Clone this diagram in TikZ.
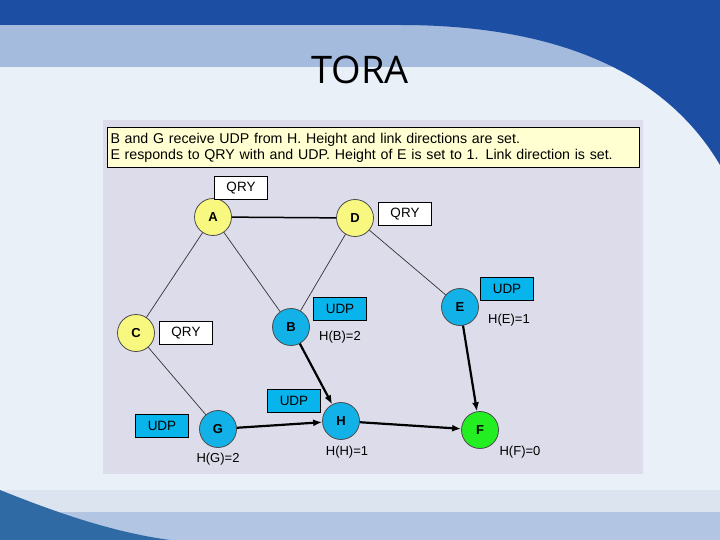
\documentclass[tikz,border=0pt]{standalone}
\usepackage{fontspec}
\setmainfont{Liberation Sans}
\newfontfamily\titlefont{Open Sans}
\usetikzlibrary{arrows.meta}
\definecolor{bgpale}{HTML}{EAF0F8}
\definecolor{bandlight}{HTML}{A4BBDD}
\definecolor{banddark}{HTML}{1C4FA3}
\definecolor{panel}{HTML}{DCDCEA}
\definecolor{notefill}{HTML}{FFFFD2}
\definecolor{nyellow}{HTML}{F8F880}
\definecolor{ncyan}{HTML}{12B2E8}
\definecolor{ngreen}{HTML}{22EE22}
\definecolor{udpfill}{HTML}{08B4EC}
\definecolor{botband}{HTML}{B2C6E3}
\definecolor{botlight}{HTML}{DCE4F0}
\definecolor{swoosh}{HTML}{2F6AA5}
\tikzset{
  x=1pt, y=-1pt,
  vnode/.style={circle, draw=black!70, line width=0.8pt, minimum size=37pt, inner sep=0pt, font=\bfseries\fontsize{13}{14}\selectfont},
  yel/.style={vnode, fill=nyellow},
  cya/.style={vnode, fill=ncyan},
  grn/.style={vnode, fill=ngreen},
  qrybox/.style={draw=black, line width=1pt, fill=white, minimum width=53pt, minimum height=23pt, inner sep=0pt, font=\fontsize{13.5}{14}\selectfont},
  udpbox/.style={qrybox, fill=udpfill},
  hlabel/.style={font=\fontsize{13}{14}\selectfont, inner sep=0pt},
  thinedge/.style={draw=black!80, line width=0.7pt},
  arr/.style={draw=black, line width=2.2pt, -{Latex[length=9pt,width=7pt]}}
}
\begin{document}
\begin{tikzpicture}
\useasboundingbox (0,0) rectangle (720,540);
% background
\fill[bgpale] (0,0) rectangle (720,540);
\fill[bandlight] (0,25) rectangle (720,67);
\fill[banddark] (0,0) -- (0,25) -- (400,25) .. controls (570,25) and (670,80) .. (720,165) -- (720,0) -- cycle;
\fill[botlight] (0,490) rectangle (720,512);
\fill[botband] (0,512) rectangle (720,540);
\fill[swoosh] (0,490) .. controls (50,510) and (110,532) .. (170,540) -- (0,540) -- cycle;
\node[font=\titlefont\fontsize{38}{42}\selectfont] (title) at (360,70) {TORA};
% panel
\fill[panel] (103,120) rectangle (643,474);
\node[draw=black, line width=1pt, fill=notefill, minimum width=532pt, minimum height=40pt, inner sep=0pt, anchor=north west, align=left, text width=526pt, font=\fontsize{14.2}{16}\selectfont] (note) at (107,127)
  {B and G receive UDP from H. Height and link directions are set.\\E responds to QRY with and UDP. Height of E is set to 1. Link direction is set.};
% nodes
\node[yel] (A) at (213,217) {A};
\node[yel] (D) at (355,218) {D};
\node[yel] (C) at (136,333) {C};
\node[cya] (B) at (291,327) {B};
\node[cya] (E) at (460,307) {E};
\node[cya] (G) at (218,429) {G};
\node[cya] (H) at (341,421) {H};
\node[grn] (F) at (480,430) {F};
% labels
\node[qrybox] (qa) at (241,188) {QRY};
\node[qrybox] (qd) at (405,214) {QRY};
\node[qrybox] (qc) at (186,333) {QRY};
\node[udpbox] (ub) at (340,309) {UDP};
\node[udpbox] (ue) at (507,289) {UDP};
\node[udpbox] (uh) at (294,401) {UDP};
\node[udpbox] (ug) at (162,426) {UDP};
\node[hlabel] (hb) at (340,337) {H(B)=2};
\node[hlabel] (he) at (509,320) {H(E)=1};
\node[hlabel] (hg) at (218,459) {H(G)=2};
\node[hlabel] (hh) at (347,452) {H(H)=1};
\node[hlabel] (hf) at (520,452) {H(F)=0};
% edges
\draw[draw=black, line width=1.5pt] (A) -- (D);
\draw[thinedge] (A) -- (C);
\draw[thinedge] (A) -- (B);
\draw[thinedge] (D) -- (B);
\draw[thinedge] (D) -- (E);
\draw[thinedge] (C) -- (G);
\draw[arr] (B) -- (H);
\draw[arr] (E) -- (F);
\draw[arr] (G) -- (H);
\draw[arr] (H) -- (F);
\end{tikzpicture}
\end{document}
